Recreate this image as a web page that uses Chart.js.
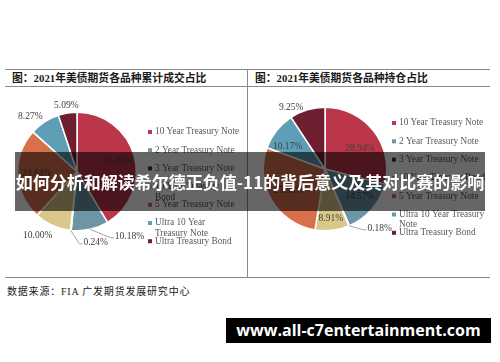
<!DOCTYPE html>
<html lang="zh">
<head>
  <meta charset="UTF-8">
  <title>2021年美债期货各品种占比</title>
  <style>
    body { margin: 0; background: #fff; }
    #page { position: relative; width: 500px; height: 362px; overflow: hidden; background: #fff; }
    .hline { position: absolute; height: 1px; background: #8a8a8a; }
    .vline { position: absolute; width: 1px; background: #8a8a8a; }
    .title { position: absolute; font-family: "Liberation Serif", "Noto Sans CJK SC", serif; font-weight: bold; font-size: 10.8px; color: #1a1a1a; line-height: 12px; white-space: nowrap; }
    .source { position: absolute; left: 7px; top: 283px; font-family: "Liberation Serif", "Noto Sans CJK SC", serif; font-size: 10px; color: #222; letter-spacing: 0.8px; white-space: nowrap; }
    canvas { position: absolute; }
    #banner { position: absolute; left: 15px; top: 152px; width: 470px; height: 59px; background: rgba(0, 0, 0, 0.6); color: #fff; font-family: "Noto Sans CJK SC", sans-serif; font-weight: bold; font-size: 17px; line-height: 59px; text-align: center; white-space: nowrap; z-index: 5; }
    #site { position: absolute; left: 226px; top: 318px; width: 265px; height: 25px; background: #000; color: #fff; font-family: "Open Sans", "DejaVu Sans", sans-serif; font-weight: bold; font-size: 16px; line-height: 25px; text-align: center; white-space: nowrap; z-index: 5; }
  </style>
</head>
<body>
<div id="page">
  <div class="hline" style="left:5px; top:69px; width:485px;"></div>
  <div class="hline" style="left:5px; top:86px; width:485px;"></div>
  <div class="hline" style="left:5px; top:277px; width:485px;"></div>
  <div class="vline" style="left:247px; top:69px; height:209px;"></div>
  <div class="title" style="left:12px; top:72px;">图：2021年美债期货各品种累计成交占比</div>
  <div class="title" style="left:255px; top:72px;">图：2021年美债期货各品种持仓占比</div>

  <canvas id="volumeChart" width="247" height="188" style="left:0px; top:87px;"></canvas>
  <canvas id="holdingChart" width="245" height="188" style="left:248px; top:87px;"></canvas>

  <div class="source">数据来源：FIA 广发期货发展研究中心</div>
  <div id="banner">如何分析和解读希尔德正负值-11的背后意义及其对比赛的影响</div>
  <div id="site">www.all-c7entertainment.com</div>
</div>

<script src="https://cdn.jsdelivr.net/npm/chart.js"></script>
<script>
const categories = ['10 Year Treasury Note', '2 Year Treasury Note', '3 Year Treasury Note', '10 Year Treasury Bond', '5 Year Treasury Note', 'Ultra 10 Year Treasury Note', 'Ultra Treasury Bond'];
const volumeShare = [41.40, 10.18, 0.24, 10.00, 24.84, 8.27, 5.09];   // 累计成交占比 %
const holdingShare = [28.94, 14.57, 0.18, 8.91, 27.98, 10.17, 9.25];  // 持仓占比 %
const sliceColors = ['#BA3648', '#6C95A5', '#1E3D4B', '#D9C88A', '#D8714B', '#5E9EB6', '#6E1F2F'];

const labelFont = '9.5px "Liberation Serif", serif';
const legendFont = '9.3px "Liberation Serif", serif';

// 百分比标签：f = 半径倍数，da = 角度偏移(度)，lead = 引导线标签相对扇区外缘的偏移
const sliceLabels = {
    id: 'sliceLabels',
    afterDatasetsDraw: (chart, args, opts) => {
        const ctx = chart.ctx;
        const arcs = chart.getDatasetMeta(0).data;
        const values = chart.data.datasets[0].data;
        ctx.save();
        ctx.font = labelFont;
        ctx.fillStyle = '#404040';
        ctx.textBaseline = 'middle';
        ctx.textAlign = 'center';
        arcs.forEach((arc, i) => {
            const p = opts.place[i];
            const r = arc.outerRadius;
            const mid = (arc.startAngle + arc.endAngle) / 2;
            const text = values[i].toFixed(2) + '%';
            if (p.lead) {
                const ex = arc.x + Math.cos(mid) * r;
                const ey = arc.y + Math.sin(mid) * r;
                const lx = ex + p.lead[0];
                const ly = ey + p.lead[1];
                const w = ctx.measureText(text).width;
                ctx.strokeStyle = '#a6a6a6';
                ctx.lineWidth = 1;
                ctx.beginPath();
                ctx.moveTo(ex, ey);
                ctx.lineTo(lx - w / 2 - 4, ly + 1);
                ctx.lineTo(lx - w / 2 - 1, ly + 1);
                ctx.stroke();
                ctx.fillText(text, lx, ly);
            } else {
                const a = mid + (p.da || 0) * Math.PI / 180;
                ctx.fillText(text, arc.x + Math.cos(a) * r * p.f, arc.y + Math.sin(a) * r * p.f);
            }
        });
        ctx.restore();
    }
};

// 图例：固定行距，超宽自动换行
const sideLegend = {
    id: 'sideLegend',
    afterDraw: (chart, args, opts) => {
        const ctx = chart.ctx;
        const colors = chart.data.datasets[0].backgroundColor;
        ctx.save();
        ctx.font = legendFont;
        ctx.textBaseline = 'middle';
        chart.data.labels.forEach((label, i) => {
            const y = opts.y + i * opts.step;
            ctx.fillStyle = colors[i];
            ctx.fillRect(opts.x - 2, y - 2, 4, 4);
            ctx.fillStyle = '#595959';
            const words = label.split(' ');
            let line = '';
            let ly = y;
            words.forEach(w => {
                const test = line ? line + ' ' + w : w;
                if (line && ctx.measureText(test).width > opts.maxWidth) {
                    ctx.fillText(line, opts.x + 5, ly);
                    line = w;
                    ly += 10.5;
                } else {
                    line = test;
                }
            });
            ctx.fillText(line, opts.x + 5, ly);
        });
        ctx.restore();
    }
};

function makePie(id, values, padding, place, legend) {
    return new Chart(document.getElementById(id).getContext('2d'), {
        type: 'pie',
        data: {
            labels: categories,
            datasets: [{
                data: values,
                backgroundColor: sliceColors,
                borderColor: '#ffffff',
                borderWidth: 1.5
            }]
        },
        options: {
            responsive: false,
            animation: false,
            layout: { padding: padding },
            plugins: {
                legend: { display: false },
                tooltip: { enabled: false },
                sliceLabels: { place: place },
                sideLegend: legend
            }
        },
        plugins: [sliceLabels, sideLegend]
    });
}

makePie('volumeChart', volumeShare,
    { left: 17, right: 110, top: 24, bottom: 43 },
    [{ f: 0.72 }, { lead: [39.5, 7.5] }, { lead: [25, 12.5] }, { f: 1.27, da: 7 }, { f: 0.68 }, { f: 1.22, da: -7 }, { f: 1.13 }],
    { x: 150, y: 45, step: 18.2, maxWidth: 85 });

makePie('holdingChart', holdingShare,
    { left: 14.5, right: 105.5, top: 19.5, bottom: 43.5 },
    [{ f: 0.66, da: 7 }, { f: 0.72, da: -2 }, { lead: [30.5, 3] }, { f: 0.81 }, { f: 0.68 }, { f: 0.71, da: -7 }, { f: 1.14, da: -12 }],
    { x: 146, y: 36, step: 18.3, maxWidth: 92 });
</script>
</body>
</html>
